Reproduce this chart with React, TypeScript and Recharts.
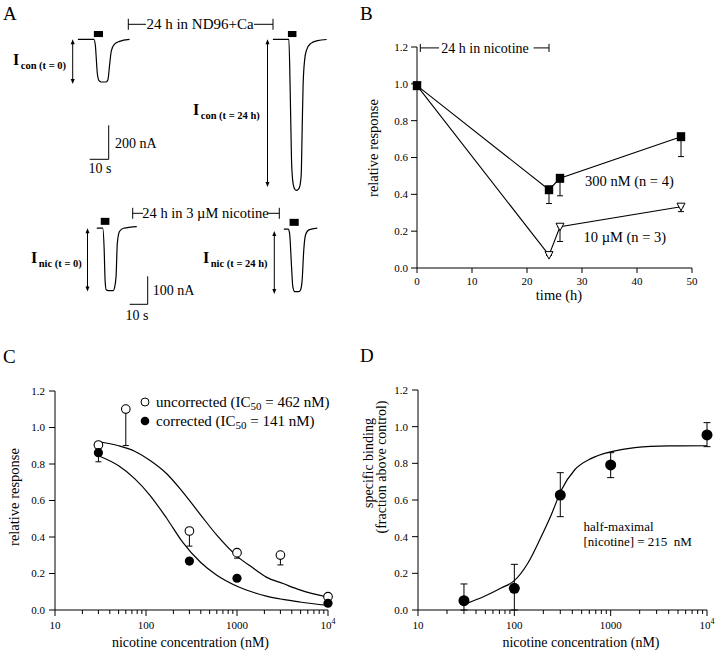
import React from "react";
import {
  ComposedChart,
  LineChart,
  Line,
  Scatter,
  XAxis,
  YAxis,
  ErrorBar,
  ReferenceArea,
  ReferenceLine,
} from "recharts";

const FONT = "'Liberation Serif', 'Times New Roman', Times, serif";

// ---- Panel A: current traces, [time (s), current (nA)] ----
const conT0Trace: [number, number][] = [
  [0, 0], [8.4, 0], [9.2, -36], [9.7, -117], [10.2, -198], [11.1, -243], [12.3, -251],
  [14.9, -251], [15.8, -238], [16.7, -149], [17.6, -68], [19.3, -28], [21.9, -12], [27.2, 0],
];
const conT24Trace: [number, number][] = [
  [0, 0], [8.4, 0], [9.1, -298], [9.8, -710], [10.4, -828], [11.2, -875], [12.2, -889],
  [13.5, -881], [14.3, -857], [14.9, -798], [15.4, -534], [15.9, -269], [16.7, -122],
  [17.7, -63], [19.8, -25], [23.5, -7], [28.3, -1],
];
const nicT0Trace: [number, number][] = [
  [0, 0], [3.3, 0], [4.1, -77], [4.6, -185], [5.2, -220], [6.4, -223], [9.2, -223],
  [9.8, -214], [10.7, -173], [11.4, -54], [12.6, -12], [14.8, 0], [22.2, 6],
];
const nicT24Trace: [number, number][] = [
  [0, 0], [2.4, 0], [3.2, -14], [4.3, -134], [5.0, -205], [6.1, -223], [8.3, -223],
  [9.3, -217], [10.2, -181], [11.1, -74], [12.1, -20], [13.9, -2.5], [18.6, 3.6],
];
// agonist application (s)
const conT0Stim = [8.4, 13.2];
const conT24Stim = [7.9, 12.4];
const nicT0Stim = [2.2, 7.0];
const nicT24Stim = [3.2, 8.3];

// ---- Panel B ----
const bTimes = [0, 24, 26, 48];
const b300nM = [0.99, 0.425, 0.487, 0.713];
const b300nMErr = [0, 0.075, 0.095, 0.108];
const b10uM = [0.99, 0.07, 0.224, 0.333];
const b10uMErr = [0, 0, 0.08, 0.027];
const bXTicks = [0, 10, 20, 30, 40, 50];
const yTicks = [0, 0.2, 0.4, 0.6, 0.8, 1.0, 1.2];

// ---- Panel C ----
const cConc = [30, 60, 300, 1000, 3000, 10000];
const cUncorrected = [0.904, 1.101, 0.433, 0.314, 0.301, 0.073];
const cUncorrectedErr = [0, 0.2, 0.083, 0.03, 0.054, 0];
const cCorrectedConc = [30, 300, 1000, 10000];
const cCorrected = [0.862, 0.268, 0.174, 0.037];
const cCorrectedErr = [0.05, 0, 0, 0];
const cFitConc = [30, 50, 75, 110, 170, 250, 400, 600, 1000, 1500, 2100, 3200, 4900, 10000];
const cFitUncorrected = [0.922, 0.9, 0.87, 0.82, 0.745, 0.65, 0.52, 0.41, 0.295, 0.23, 0.18, 0.145, 0.11, 0.07];
const cFitCorrected = [0.845, 0.79, 0.72, 0.63, 0.5, 0.375, 0.26, 0.19, 0.13, 0.097, 0.076, 0.058, 0.044, 0.025];

// ---- Panel D ----
const dConc = [30, 100, 300, 1000, 10000];
const dBinding = [0.051, 0.118, 0.627, 0.791, 0.955];
const dErrLow = [0.051, 0.118, 0.118, 0.069, 0.064];
const dErrHigh = [0.091, 0.131, 0.122, 0.067, 0.067];
const dFitConc = [30, 49, 73, 100, 138, 190, 242, 308, 424, 631, 1018, 1780, 3970, 10000];
const dFitBinding = [0.03, 0.075, 0.12, 0.16, 0.255, 0.4, 0.52, 0.655, 0.765, 0.827, 0.864, 0.886, 0.895, 0.896];

const logTicks = [
  10, 20, 30, 40, 50, 60, 70, 80, 90,
  100, 200, 300, 400, 500, 600, 700, 800, 900,
  1000, 2000, 3000, 4000, 5000, 6000, 7000, 8000, 9000, 10000,
];
const logMajorTicks = [10, 100, 1000, 10000];
const logMajorLabels = ["10", "100", "1000", "10"];

const TICK_SIZE = 6;
const TICK_MARGIN = 5;
const TICK_FONT = 11;

const TOP_ROW = { pxS: 1.9, pxNA: 0.17, stimI: [13.5, 49] };
const BOTTOM_ROW = { pxS: 1.8, pxNA: 0.28, stimI: [12, 37] };

function LogTick(props: any) {
  const { x, y, payload } = props;
  const v = payload.value;
  const axisY = y - TICK_SIZE - TICK_MARGIN;
  const idx = logMajorTicks.indexOf(v);
  const major = idx >= 0;
  return (
    <g>
      <line x1={x} x2={x} y1={axisY} y2={axisY + (major ? 6 : 4)} stroke="#000" strokeWidth={1} />
      {major && (
        <text x={x} y={axisY + 11} dy="0.71em" textAnchor="middle" fontSize={TICK_FONT} fontFamily={FONT} fill="#000">
          {logMajorLabels[idx]}
          {v === 10000 && (
            <tspan dy={-5} fontSize={8}>
              4
            </tspan>
          )}
        </text>
      )}
    </g>
  );
}

interface TraceProps {
  trace: [number, number][];
  stim: number[];
  x0: number;
  y0: number;
  row: { pxS: number; pxNA: number; stimI: number[] };
  tDomain: [number, number];
  iDomain: [number, number];
}

function TraceChart({ trace, stim, x0, y0, row, tDomain, iDomain }: TraceProps) {
  const rows = trace.map(([t, i]) => ({ t, i }));
  const width = (tDomain[1] - tDomain[0]) * row.pxS;
  const height = (iDomain[1] - iDomain[0]) * row.pxNA;
  const left = x0 + tDomain[0] * row.pxS;
  const top = y0 - iDomain[1] * row.pxNA;
  return (
    <div style={{ position: "absolute", left, top, width, height }}>
      <LineChart width={width} height={height} data={rows} margin={{ top: 0, right: 0, bottom: 0, left: 0 }}>
        <XAxis type="number" dataKey="t" domain={tDomain} hide />
        <YAxis type="number" domain={iDomain} hide />
        <ReferenceArea
          x1={stim[0]}
          x2={stim[1]}
          y1={row.stimI[0]}
          y2={row.stimI[1]}
          fill="#000"
          fillOpacity={1}
          stroke="none"
          ifOverflow="visible"
        />
        <Line type="monotone" dataKey="i" stroke="#000" strokeWidth={1.2} dot={false} isAnimationActive={false} />
      </LineChart>
    </div>
  );
}

const SquareDot = (p: any) =>
  p.cx == null ? (
    <g key={`sq${p.index}`} />
  ) : (
    <rect key={`sq${p.index}`} x={p.cx - 4.2} y={p.cy - 4.5} width={8.4} height={9} fill="#000" />
  );

const TriangleDot = (p: any) =>
  p.cx == null ? (
    <g key={`tr${p.index}`} />
  ) : (
    <path
      key={`tr${p.index}`}
      d={`M${p.cx - 4} ${p.cy - 3.5} L${p.cx + 4} ${p.cy - 3.5} L${p.cx} ${p.cy + 4} Z`}
      fill="#fff"
      stroke="#000"
      strokeWidth={1}
    />
  );

const axisTick = { fill: "#000", fontSize: TICK_FONT, fontFamily: FONT };

function PanelB() {
  const rows = bTimes.map((t, k) => ({
    t,
    high: b300nM[k],
    highErr: [b300nMErr[k], 0],
    low: b10uM[k],
    lowErr: [b10uMErr[k], 0],
  }));
  const seg = (x1: number, y1: number, x2: number, y2: number, key: string) => (
    <ReferenceLine
      key={key}
      segment={[{ x: x1, y: y1 }, { x: x2, y: y2 }]}
      stroke="#000"
      strokeWidth={1}
      ifOverflow="visible"
    />
  );
  return (
    <div style={{ position: "absolute", left: 360, top: 30 }}>
      <ComposedChart width={350} height={290} data={rows} margin={{ top: 17, right: 18, bottom: 16, left: 12 }}>
        <XAxis
          type="number"
          dataKey="t"
          domain={[0, 50]}
          ticks={bXTicks}
          interval={0}
          height={36}
          tickSize={5}
          tickMargin={4}
          stroke="#000"
          tick={axisTick}
        />
        <YAxis
          type="number"
          domain={[0, 1.2]}
          ticks={yTicks}
          interval={0}
          width={45}
          tickSize={6}
          tickMargin={3}
          stroke="#000"
          tick={axisTick}
          tickFormatter={(v: number) => v.toFixed(1)}
        />
        {seg(0.6, 1.195, 4, 1.195, "b1")}
        {seg(0.6, 1.173, 0.6, 1.217, "b2")}
        {seg(21.2, 1.195, 24, 1.195, "b3")}
        {seg(24, 1.173, 24, 1.217, "b4")}
        <Line dataKey="low" stroke="#000" strokeWidth={1.1} dot={TriangleDot} isAnimationActive={false}>
          <ErrorBar dataKey="lowErr" direction="y" width={3} stroke="#000" strokeWidth={1} />
        </Line>
        <Line dataKey="high" stroke="#000" strokeWidth={1.1} dot={SquareDot} isAnimationActive={false}>
          <ErrorBar dataKey="highErr" direction="y" width={3} stroke="#000" strokeWidth={1} />
        </Line>
      </ComposedChart>
    </div>
  );
}

function PanelC() {
  const uncorrected = cConc.map((x, k) => ({ x, y: cUncorrected[k], err: [cUncorrectedErr[k], 0] }));
  const corrected = cCorrectedConc.map((x, k) => ({ x, y: cCorrected[k], err: [cCorrectedErr[k], 0] }));
  const fitU = cFitConc.map((x, k) => ({ x, y: cFitUncorrected[k] }));
  const fitC = cFitConc.map((x, k) => ({ x, y: cFitCorrected[k] }));
  return (
    <div style={{ position: "absolute", left: 0, top: 330 }}>
      <ComposedChart width={360} height={323} margin={{ top: 61, right: 32, bottom: 4, left: 15 }}>
        <XAxis
          type="number"
          dataKey="x"
          scale="log"
          domain={[10, 10000]}
          ticks={logTicks}
          interval={0}
          height={39}
          tickLine={false}
          tickSize={TICK_SIZE}
          tickMargin={TICK_MARGIN}
          stroke="#000"
          tick={<LogTick />}
        />
        <YAxis
          type="number"
          domain={[0, 1.2]}
          ticks={yTicks}
          interval={0}
          width={40}
          tickSize={6}
          tickMargin={4}
          stroke="#000"
          tick={axisTick}
          tickFormatter={(v: number) => v.toFixed(1)}
        />
        <Line data={fitU} dataKey="y" type="monotone" stroke="#000" strokeWidth={1.2} dot={false} isAnimationActive={false} />
        <Line data={fitC} dataKey="y" type="monotone" stroke="#000" strokeWidth={1.2} dot={false} isAnimationActive={false} />
        <Scatter
          data={uncorrected}
          dataKey="y"
          isAnimationActive={false}
          shape={(p: any) => <circle cx={p.cx} cy={p.cy} r={4.3} fill="#fff" stroke="#000" strokeWidth={1.1} />}
        >
          <ErrorBar dataKey="err" direction="y" width={3} stroke="#000" strokeWidth={1} />
        </Scatter>
        <Scatter
          data={corrected}
          dataKey="y"
          isAnimationActive={false}
          shape={(p: any) => <circle cx={p.cx} cy={p.cy} r={4.6} fill="#000" />}
        >
          <ErrorBar dataKey="err" direction="y" width={3} stroke="#000" strokeWidth={1} />
        </Scatter>
      </ComposedChart>
    </div>
  );
}

function PanelD() {
  const points = dConc.map((x, k) => ({ x, y: dBinding[k], err: [dErrLow[k], dErrHigh[k]] }));
  const fit = dFitConc.map((x, k) => ({ x, y: dFitBinding[k] }));
  return (
    <div style={{ position: "absolute", left: 360, top: 330 }}>
      <ComposedChart width={360} height={323} margin={{ top: 60, right: 13, bottom: 4, left: 18 }}>
        <XAxis
          type="number"
          dataKey="x"
          scale="log"
          domain={[10, 10000]}
          ticks={logTicks}
          interval={0}
          height={39}
          tickLine={false}
          tickSize={TICK_SIZE}
          tickMargin={TICK_MARGIN}
          stroke="#000"
          tick={<LogTick />}
        />
        <YAxis
          type="number"
          domain={[0, 1.2]}
          ticks={yTicks}
          interval={0}
          width={40}
          tickSize={6}
          tickMargin={4}
          stroke="#000"
          tick={axisTick}
          tickFormatter={(v: number) => v.toFixed(1)}
        />
        <Line data={fit} dataKey="y" type="monotone" stroke="#000" strokeWidth={1.2} dot={false} isAnimationActive={false} />
        <Scatter
          data={points}
          dataKey="y"
          isAnimationActive={false}
          shape={(p: any) => <circle cx={p.cx} cy={p.cy} r={5.5} fill="#000" />}
        >
          <ErrorBar dataKey="err" direction="y" width={3.5} stroke="#000" strokeWidth={1} />
        </Scatter>
      </ComposedChart>
    </div>
  );
}

function DoubleArrow({ x, y1, y2 }: { x: number; y1: number; y2: number }) {
  return (
    <g>
      <line x1={x} x2={x} y1={y1 + 3} y2={y2 - 3} stroke="#000" strokeWidth={1} />
      <path d={`M${x} ${y1} L${x - 2} ${y1 + 5} L${x + 2} ${y1 + 5} Z`} fill="#000" />
      <path d={`M${x} ${y2} L${x - 2} ${y2 - 5} L${x + 2} ${y2 - 5} Z`} fill="#000" />
    </g>
  );
}

function Bracket({ x1, x2, y, t1, t2 }: { x1: number; x2: number; y: number; t1: number; t2: number }) {
  return (
    <g stroke="#000" strokeWidth={1}>
      <line x1={x1} x2={x1} y1={y - 5.5} y2={y + 5.5} />
      <line x1={x1} x2={t1} y1={y} y2={y} />
      <line x1={t2} x2={x2} y1={y} y2={y} />
      <line x1={x2} x2={x2} y1={y - 5.5} y2={y + 5.5} />
    </g>
  );
}

function CurrentLabel({ x, y, sub }: { x: number; y: number; sub: string }) {
  return (
    <text x={x} y={y} fontFamily={FONT} fontWeight="bold" fill="#000">
      <tspan fontSize={16}>I</tspan>
      <tspan fontSize={10.5} dx={1.5} dy={4}>
        {sub}
      </tspan>
    </text>
  );
}

function Overlay() {
  const txt = { fontFamily: FONT, fill: "#000" } as const;
  const top = TOP_ROW;
  const bot = BOTTOM_ROW;
  return (
    <svg
      width={720}
      height={653}
      style={{ position: "absolute", left: 0, top: 0, pointerEvents: "none", zIndex: 2 }}
    >
      {/* panel letters */}
      <text x={3} y={20} fontSize={19} {...txt}>A</text>
      <text x={360} y={20} fontSize={19} {...txt}>B</text>
      <text x={3} y={363} fontSize={19} {...txt}>C</text>
      <text x={360} y={362} fontSize={19} {...txt}>D</text>

      {/* panel A annotations */}
      <Bracket x1={128.3} x2={273} y={24.3} t1={146} t2={254} />
      <text x={200} y={29} fontSize={15} textAnchor="middle" {...txt}>24 h in ND96+Ca</text>
      <Bracket x1={132.7} x2={279.3} y={213.3} t1={143} t2={268} />
      <text x={205.5} y={217.5} fontSize={14.5} textAnchor="middle" {...txt}>24 h in 3 µM nicotine</text>

      <DoubleArrow x={72.7} y1={39.3} y2={84} />
      <DoubleArrow x={267.5} y1={39.3} y2={187} />
      <DoubleArrow x={87.5} y1={228.3} y2={291.5} />
      <DoubleArrow x={274.3} y1={231} y2={294} />

      <CurrentLabel x={13} y={65} sub="con (t = 0)" />
      <CurrentLabel x={193} y={115} sub="con (t = 24 h)" />
      <CurrentLabel x={31} y={263} sub="nic (t = 0)" />
      <CurrentLabel x={203} y={263} sub="nic (t = 24 h)" />

      {/* scale bars: 200 nA / 10 s and 100 nA / 10 s */}
      <g stroke="#000" strokeWidth={1}>
        <line x1={108.7} x2={108.7} y1={159.3 - 200 * top.pxNA} y2={159.3} />
        <line x1={108.7 - 10 * top.pxS} x2={108.7} y1={159.3} y2={159.3} />
        <line x1={147.7} x2={147.7} y1={304.3 - 100 * bot.pxNA} y2={304.3} />
        <line x1={147.7 - 10 * bot.pxS} x2={147.7} y1={304.3} y2={304.3} />
      </g>
      <text x={115} y={148} fontSize={14} {...txt}>200 nA</text>
      <text x={100} y={173} fontSize={14} textAnchor="middle" {...txt}>10 s</text>
      <text x={152.7} y={295} fontSize={14} {...txt}>100 nA</text>
      <text x={137} y={320} fontSize={14} textAnchor="middle" {...txt}>10 s</text>

      {/* panel B */}
      <text x={485} y={53} fontSize={14} textAnchor="middle" {...txt}>24 h in nicotine</text>
      <text x={585} y={186} fontSize={14.5} {...txt}>300 nM (n = 4)</text>
      <text x={583.5} y={242} fontSize={14.5} {...txt}>10 µM (n = 3)</text>
      <text x={373} y={148} fontSize={14.5} textAnchor="middle" dominantBaseline="central" transform="rotate(-90 373 148)" {...txt}>
        relative response
      </text>
      <text x={559} y={300} fontSize={14.5} textAnchor="middle" {...txt}>time (h)</text>

      {/* panel C */}
      <circle cx={145} cy={402} r={4} fill="#fff" stroke="#000" strokeWidth={1} />
      <circle cx={145} cy={421} r={4.3} fill="#000" />
      <text x={156} y={406.5} fontSize={15} {...txt}>
        uncorrected (IC<tspan fontSize={11} dy={3}>50</tspan>
        <tspan dy={-3}> = 462 nM)</tspan>
      </text>
      <text x={156} y={425.5} fontSize={15} {...txt}>
        corrected (IC<tspan fontSize={11} dy={3}>50</tspan>
        <tspan dy={-3}> = 141 nM)</tspan>
      </text>
      <text x={14} y={497} fontSize={14.5} textAnchor="middle" dominantBaseline="central" transform="rotate(-90 14 497)" {...txt}>
        relative response
      </text>
      <text x={190.5} y={647} fontSize={14} textAnchor="middle" {...txt}>nicotine concentration (nM)</text>

      {/* panel D */}
      <text x={368.5} y={463} fontSize={14} textAnchor="middle" dominantBaseline="central" transform="rotate(-90 368.5 463)" {...txt}>
        specific binding
      </text>
      <text x={381} y={467} fontSize={14} textAnchor="middle" dominantBaseline="central" transform="rotate(-90 381 467)" {...txt}>
        (fraction above control)
      </text>
      <text x={583.5} y={531} fontSize={13} {...txt}>half-maximal</text>
      <text x={583.5} y={546} fontSize={13} {...txt} style={{ whiteSpace: "pre" }}>
        {"[nicotine] = 215  nM"}
      </text>
      <text x={581} y={647} fontSize={14} textAnchor="middle" {...txt}>nicotine concentration (nM)</text>
    </svg>
  );
}

export default function App() {
  return (
    <div
      style={{
        position: "absolute",
        left: 0,
        top: 0,
        width: 720,
        height: 653,
        background: "#fff",
        overflow: "hidden",
        fontFamily: FONT,
      }}
    >
      <TraceChart trace={conT0Trace} stim={conT0Stim} x0={78.3} y0={39.3} row={TOP_ROW} tDomain={[-1, 29]} iDomain={[-265, 55]} />
      <TraceChart trace={conT24Trace} stim={conT24Stim} x0={273.3} y0={39.3} row={TOP_ROW} tDomain={[-1, 30]} iDomain={[-905, 55]} />
      <TraceChart trace={nicT0Trace} stim={nicT0Stim} x0={96.7} y0={228.3} row={BOTTOM_ROW} tDomain={[-1, 23]} iDomain={[-235, 40]} />
      <TraceChart trace={nicT24Trace} stim={nicT24Stim} x0={283.3} y0={229.3} row={BOTTOM_ROW} tDomain={[-1, 20]} iDomain={[-235, 40]} />
      <PanelB />
      <PanelC />
      <PanelD />
      <Overlay />
    </div>
  );
}
